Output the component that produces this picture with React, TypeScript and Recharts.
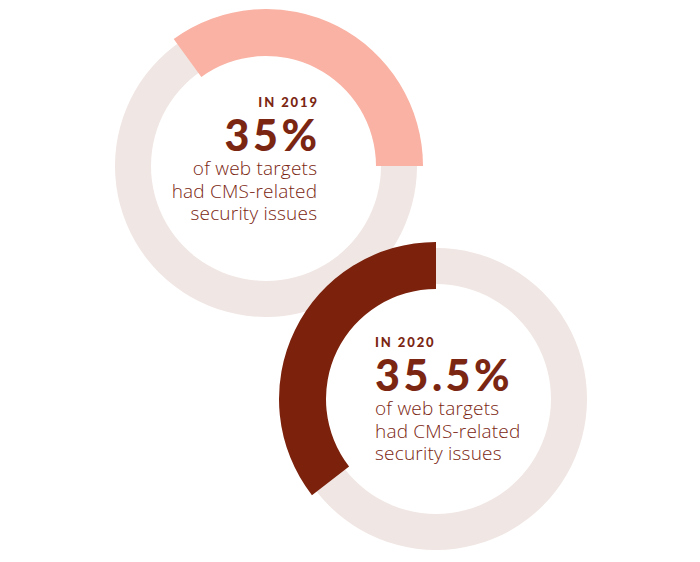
import React from 'react';
import { PieChart, Pie, Cell, Label } from 'recharts';

const YEARS = ['2019', '2020'];
const SHARES = [35, 35.5];
const CAPTION = ['of web targets', 'had CMS-related', 'security issues'];

const ARC_COLORS = ['#f9b2a3', '#7b210c'];
const TRACK = '#f0e6e3';
const INK = '#7b2612';

// ring centres, where the arc starts and how the text block sits
const RINGS = [
  { cx: 266, cy: 166, start: 0, anchor: 'end', tx: 51, ty: -59 },
  { cx: 436, cy: 399, start: 90, anchor: 'start', tx: -61, ty: -52 },
];

const renderText = (i: number) => () => {
  const r = RINGS[i];
  const x = r.cx + r.tx;
  const y = r.cy + r.ty;
  // text-anchor end keeps the trailing letter spacing, so push it back out
  const pad = (ls: number) => (r.anchor === 'end' ? x + ls : x);
  return (
    <g fill={INK} textAnchor={r.anchor}>
      <text x={pad(1.9)} y={y} fontFamily="Lato" fontWeight={900} fontSize={13} letterSpacing={1.9}>
        IN {YEARS[i]}
      </text>
      <text x={pad(3.5)} y={y + 44} fontFamily="Lato" fontWeight={900} fontSize={43} letterSpacing={3.5}>
        {SHARES[i]}%
      </text>
      {CAPTION.map((line, k) => (
        <text key={k} x={pad(0.2)} y={y + 68 + k * 22.5} fontFamily="Open Sans" fontWeight={300} fontSize={19} letterSpacing={0.2}>
          {line}
        </text>
      ))}
    </g>
  );
};

export default function App() {
  return (
    <div style={{ position: 'absolute', left: 0, top: 0, background: '#fff' }}>
      <PieChart width={700} height={562} margin={{ top: 0, right: 0, bottom: 0, left: 0 }}>
        {RINGS.map((r, i) => (
          <Pie
            key={`track-${i}`}
            data={[{ name: 'track', value: 100 }]}
            dataKey="value"
            cx={r.cx}
            cy={r.cy}
            innerRadius={115}
            outerRadius={151}
            startAngle={0}
            endAngle={360}
            fill={TRACK}
            stroke="none"
            isAnimationActive={false}
          />
        ))}
        {RINGS.map((r, i) => (
          <Pie
            key={`share-${i}`}
            data={[
              { name: 'share', value: SHARES[i] },
              { name: 'rest', value: 100 - SHARES[i] },
            ]}
            dataKey="value"
            cx={r.cx}
            cy={r.cy}
            innerRadius={110}
            outerRadius={157}
            startAngle={r.start}
            endAngle={r.start + 360}
            stroke="none"
            isAnimationActive={false}
          >
            <Cell fill={ARC_COLORS[i]} />
            <Cell fill="transparent" />
            <Label position="center" content={renderText(i)} />
          </Pie>
        ))}
      </PieChart>
    </div>
  );
}
